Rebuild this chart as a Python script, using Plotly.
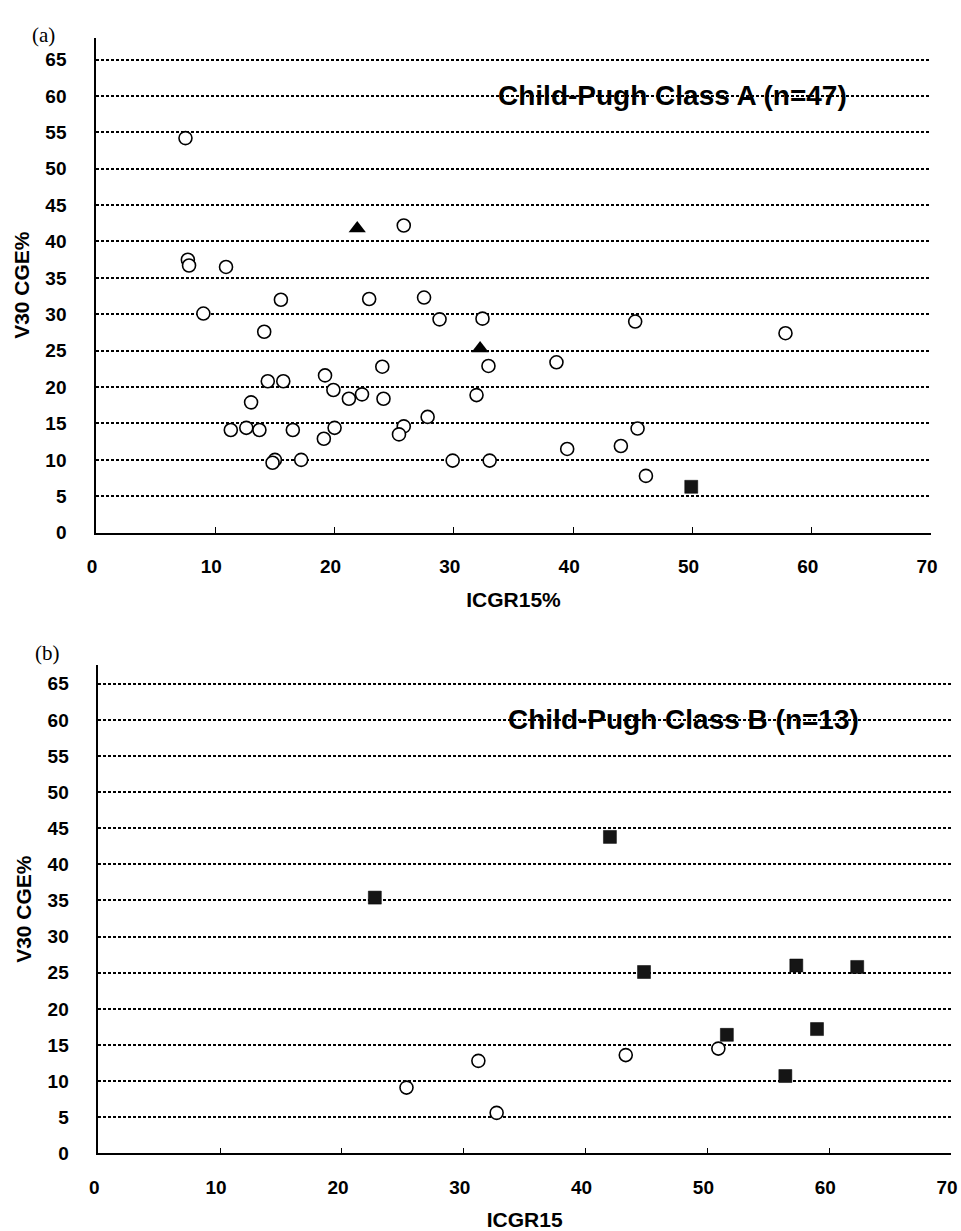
import plotly.graph_objects as go

# ---------------- data ----------------
# Panel (a): Child-Pugh Class A (n=47)
a_circle_x = [7.5, 25.8, 7.7, 7.8, 10.9, 15.5, 22.9, 27.5, 9.0, 28.8, 32.4, 14.1,
              24.0, 32.9, 38.6, 14.4, 15.7, 19.2, 19.9, 22.3, 21.2, 24.1, 31.9, 13.0,
              27.8, 11.3, 12.6, 13.7, 16.5, 20.0, 25.8, 19.1, 25.4, 45.4, 15.0, 14.8,
              17.2, 29.9, 33.0, 39.5, 44.0, 46.1, 45.2, 57.8]
a_circle_y = [54.2, 42.2, 37.5, 36.7, 36.5, 32.0, 32.1, 32.3, 30.1, 29.3, 29.4, 27.6,
              22.8, 22.9, 23.4, 20.8, 20.8, 21.6, 19.6, 19.0, 18.4, 18.4, 18.9, 17.9,
              15.9, 14.1, 14.4, 14.1, 14.1, 14.4, 14.6, 12.9, 13.5, 14.3, 10.0, 9.6,
              10.0, 9.9, 9.9, 11.5, 11.9, 7.8, 29.0, 27.4]
a_tri_x = [21.9, 32.2]
a_tri_y = [41.8, 25.3]
a_sq_x = [49.9]
a_sq_y = [6.3]

# Panel (b): Child-Pugh Class B (n=13)
b_circle_x = [25.3, 31.2, 32.7, 43.3, 50.9]
b_circle_y = [9.1, 12.8, 5.6, 13.6, 14.5]
b_sq_x = [22.7, 42.0, 44.8, 57.3, 62.3, 51.6, 59.0, 56.4]
b_sq_y = [35.4, 43.8, 25.1, 26.0, 25.8, 16.4, 17.2, 10.7]

y_ticks = [0, 5, 10, 15, 20, 25, 30, 35, 40, 45, 50, 55, 60, 65]
x_ticks = [0, 10, 20, 30, 40, 50, 60, 70]

titles = ["Child-Pugh Class A (n=47)", "Child-Pugh Class B (n=13)"]
x_titles = ["ICGR15%", "ICGR15"]
y_title = "V30 CGE%"
panel_labels = ["(a)", "(b)"]

# ---------------- figure ----------------
FONT = "Liberation Sans, Arial, sans-serif"
fig = go.Figure()

circle_style = dict(symbol="circle", size=13, color="white",
                    line=dict(color="black", width=1.6))
tri_style = dict(symbol="triangle-up", size=15, color="black", line=dict(width=0))
sq_style = dict(symbol="square", size=13, color="#151515", line=dict(color="#000", width=0.5))

fig.add_trace(go.Scatter(x=a_circle_x, y=a_circle_y, mode="markers",
                         marker=circle_style, xaxis="x", yaxis="y", showlegend=False))
fig.add_trace(go.Scatter(x=a_tri_x, y=a_tri_y, mode="markers",
                         marker=tri_style, xaxis="x", yaxis="y", showlegend=False))
fig.add_trace(go.Scatter(x=a_sq_x, y=a_sq_y, mode="markers",
                         marker=sq_style, xaxis="x", yaxis="y", showlegend=False))
fig.add_trace(go.Scatter(x=b_circle_x, y=b_circle_y, mode="markers",
                         marker=circle_style, xaxis="x2", yaxis="y2", showlegend=False))
fig.add_trace(go.Scatter(x=b_sq_x, y=b_sq_y, mode="markers",
                         marker=sq_style, xaxis="x2", yaxis="y2", showlegend=False))

tickfont = dict(family=FONT, size=19, color="black", weight="bold")
titlefont = dict(family=FONT, size=21, color="black", weight="bold")


def xaxis(domain, anchor, title):
    return dict(domain=domain, anchor=anchor, range=[0, 70], tickvals=x_ticks,
                showgrid=False, zeroline=False, showline=True, linecolor="black",
                linewidth=1.5, ticks="inside", ticklen=6, tickwidth=1.3,
                tickcolor="black", tickfont=tickfont, ticklabelstandoff=16,
                ticklabelshift=-4,
                title=dict(text=title, font=titlefont, standoff=16),
                automargin=False, fixedrange=True)


def yaxis(domain, anchor, rng):
    return dict(domain=domain, anchor=anchor, range=rng, tickvals=y_ticks,
                showgrid=True, gridcolor="black", gridwidth=1.5, griddash="3px,2px",
                zeroline=False, showline=True, linecolor="black", linewidth=1.5,
                ticks="", tickfont=tickfont, ticklabelstandoff=24,
                title=dict(text=y_title, font=titlefont, standoff=10),
                automargin=False, fixedrange=True)


fig.update_layout(
    width=961, height=1231,
    margin=dict(l=0, r=0, t=0, b=0),
    paper_bgcolor="white", plot_bgcolor="white",
    xaxis=xaxis([0.0999, 0.9688], "y", x_titles[0]),
    yaxis=yaxis([0.5673, 0.9694], "x", [0, 68]),
    xaxis2=xaxis([0.1023, 0.9896], "y2", x_titles[1]),
    yaxis2=yaxis([0.0631, 0.4598], "x2", [0, 67.6]),
    annotations=[
        dict(x=48.3, y=60, xref="x", yref="y", text=titles[0], showarrow=False,
             font=dict(family=FONT, size=28, color="black", weight="bold")),
        dict(x=48.0, y=60, xref="x2", yref="y2", text=titles[1], showarrow=False,
             font=dict(family=FONT, size=28, color="black", weight="bold")),
        dict(x=30 / 961, y=1 - 21 / 1231, xref="paper", yref="paper",
             text=panel_labels[0], showarrow=False,
             font=dict(family="Liberation Serif, Times New Roman, serif", size=21, color="black")),
        dict(x=33 / 961, y=1 - 653 / 1231, xref="paper", yref="paper",
             text=panel_labels[1], showarrow=False,
             font=dict(family="Liberation Serif, Times New Roman, serif", size=21, color="black")),
    ],
)

fig.write_html("out.html", config={"displayModeBar": False},
               post_script="document.body.style.margin='0';document.body.style.overflow='hidden';")
